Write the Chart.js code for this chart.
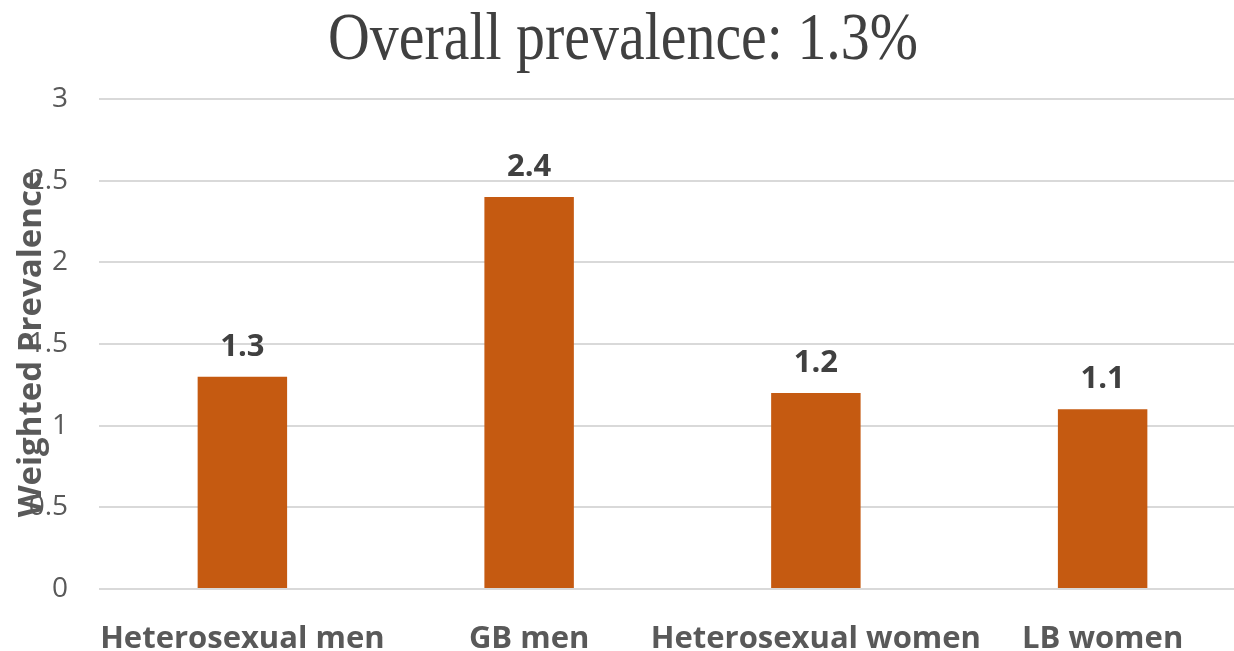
<!DOCTYPE html>
<html>
<head>
<meta charset="utf-8">
<script src="https://cdn.jsdelivr.net/npm/chart.js@4.4.1/dist/chart.umd.min.js"></script>
<style>
  html, body { margin: 0; padding: 0; overflow: hidden; background: #fff; }
  #wrap { position: absolute; left: 0; top: 0; width: 1246px; height: 670px; }
</style>
</head>
<body>
<div id="wrap"><canvas id="chart" width="1246" height="670"></canvas></div>
<script>
const categories = ["Heterosexual men", "GB men", "Heterosexual women", "LB women"];
const prevalence = [1.3, 2.4, 1.2, 1.1];
const yTicks = [0, 0.5, 1, 1.5, 2, 2.5, 3];
const chartTitle = "Overall prevalence: 1.3%";
const yTitle = "Weighted Prevalence";

const sans = "'Open Sans', sans-serif";
Chart.defaults.font.family = sans;

// the original title is a narrow serif, so squeeze Liberation Serif a bit
const titlePlugin = {
  id: "narrowTitle",
  afterDraw(chart) {
    const ctx = chart.ctx;
    ctx.save();
    ctx.font = "68px 'Liberation Serif', serif";
    ctx.fillStyle = "#404040";
    ctx.textAlign = "center";
    ctx.textBaseline = "alphabetic";
    const w = ctx.measureText(chartTitle).width;
    ctx.translate(chart.width / 2, 59);
    ctx.scale(590 / w, 1);
    ctx.fillText(chartTitle, 0, 0);
    ctx.restore();
  }
};

// y title sits on top of the tick labels in the original
const axisTitle = {
  id: "axisTitle",
  afterDraw(chart) {
    const ctx = chart.ctx, area = chart.chartArea;
    ctx.save();
    ctx.font = "bold 33px " + sans;
    ctx.fillStyle = "#595959";
    ctx.textAlign = "center";
    ctx.translate(41, (area.top + area.bottom) / 2);
    ctx.rotate(-Math.PI / 2);
    ctx.fillText(yTitle, 0, 0);
    ctx.restore();
  }
};

const valueLabels = {
  id: "valueLabels",
  afterDatasetsDraw(chart) {
    const ctx = chart.ctx;
    const meta = chart.getDatasetMeta(0);
    ctx.save();
    ctx.font = "bold 31px " + sans;
    ctx.fillStyle = "#404040";
    ctx.textAlign = "center";
    meta.data.forEach((bar, i) => {
      ctx.fillText(prevalence[i].toFixed(1), bar.x, bar.y - 21);
    });
    ctx.restore();
  }
};

new Chart(document.getElementById("chart"), {
  type: "bar",
  data: {
    labels: categories,
    datasets: [{
      data: prevalence,
      backgroundColor: "#c55a11",
      categoryPercentage: 1,
      barPercentage: 0.312
    }]
  },
  options: {
    responsive: false,
    animation: false,
    devicePixelRatio: 1,
    layout: { padding: { top: 99, left: 0, right: 0, bottom: 0 } },
    plugins: {
      legend: { display: false },
      tooltip: { enabled: false },
      title: { display: false }
    },
    scales: {
      x: {
        grid: { display: false },
        border: { display: false },
        ticks: {
          color: "#595959",
          font: { size: 31, weight: "bold" },
          padding: 24,
          maxRotation: 0,
          autoSkip: false
        },
        afterFit(s) { s.height = 81; }
      },
      y: {
        min: 0,
        max: 3,
        afterBuildTicks(s) { s.ticks = yTicks.map(v => ({ value: v })); },
        grid: { color: "#d9d9d9", lineWidth: 2, drawTicks: false },
        border: { display: false },
        ticks: {
          color: "#595959",
          font: { size: 28 },
          padding: 31,
          callback: v => String(v)
        },
        afterFit(s) { s.width = 99; }
      }
    }
  },
  plugins: [valueLabels, titlePlugin, axisTitle]
});
</script>
</body>
</html>
